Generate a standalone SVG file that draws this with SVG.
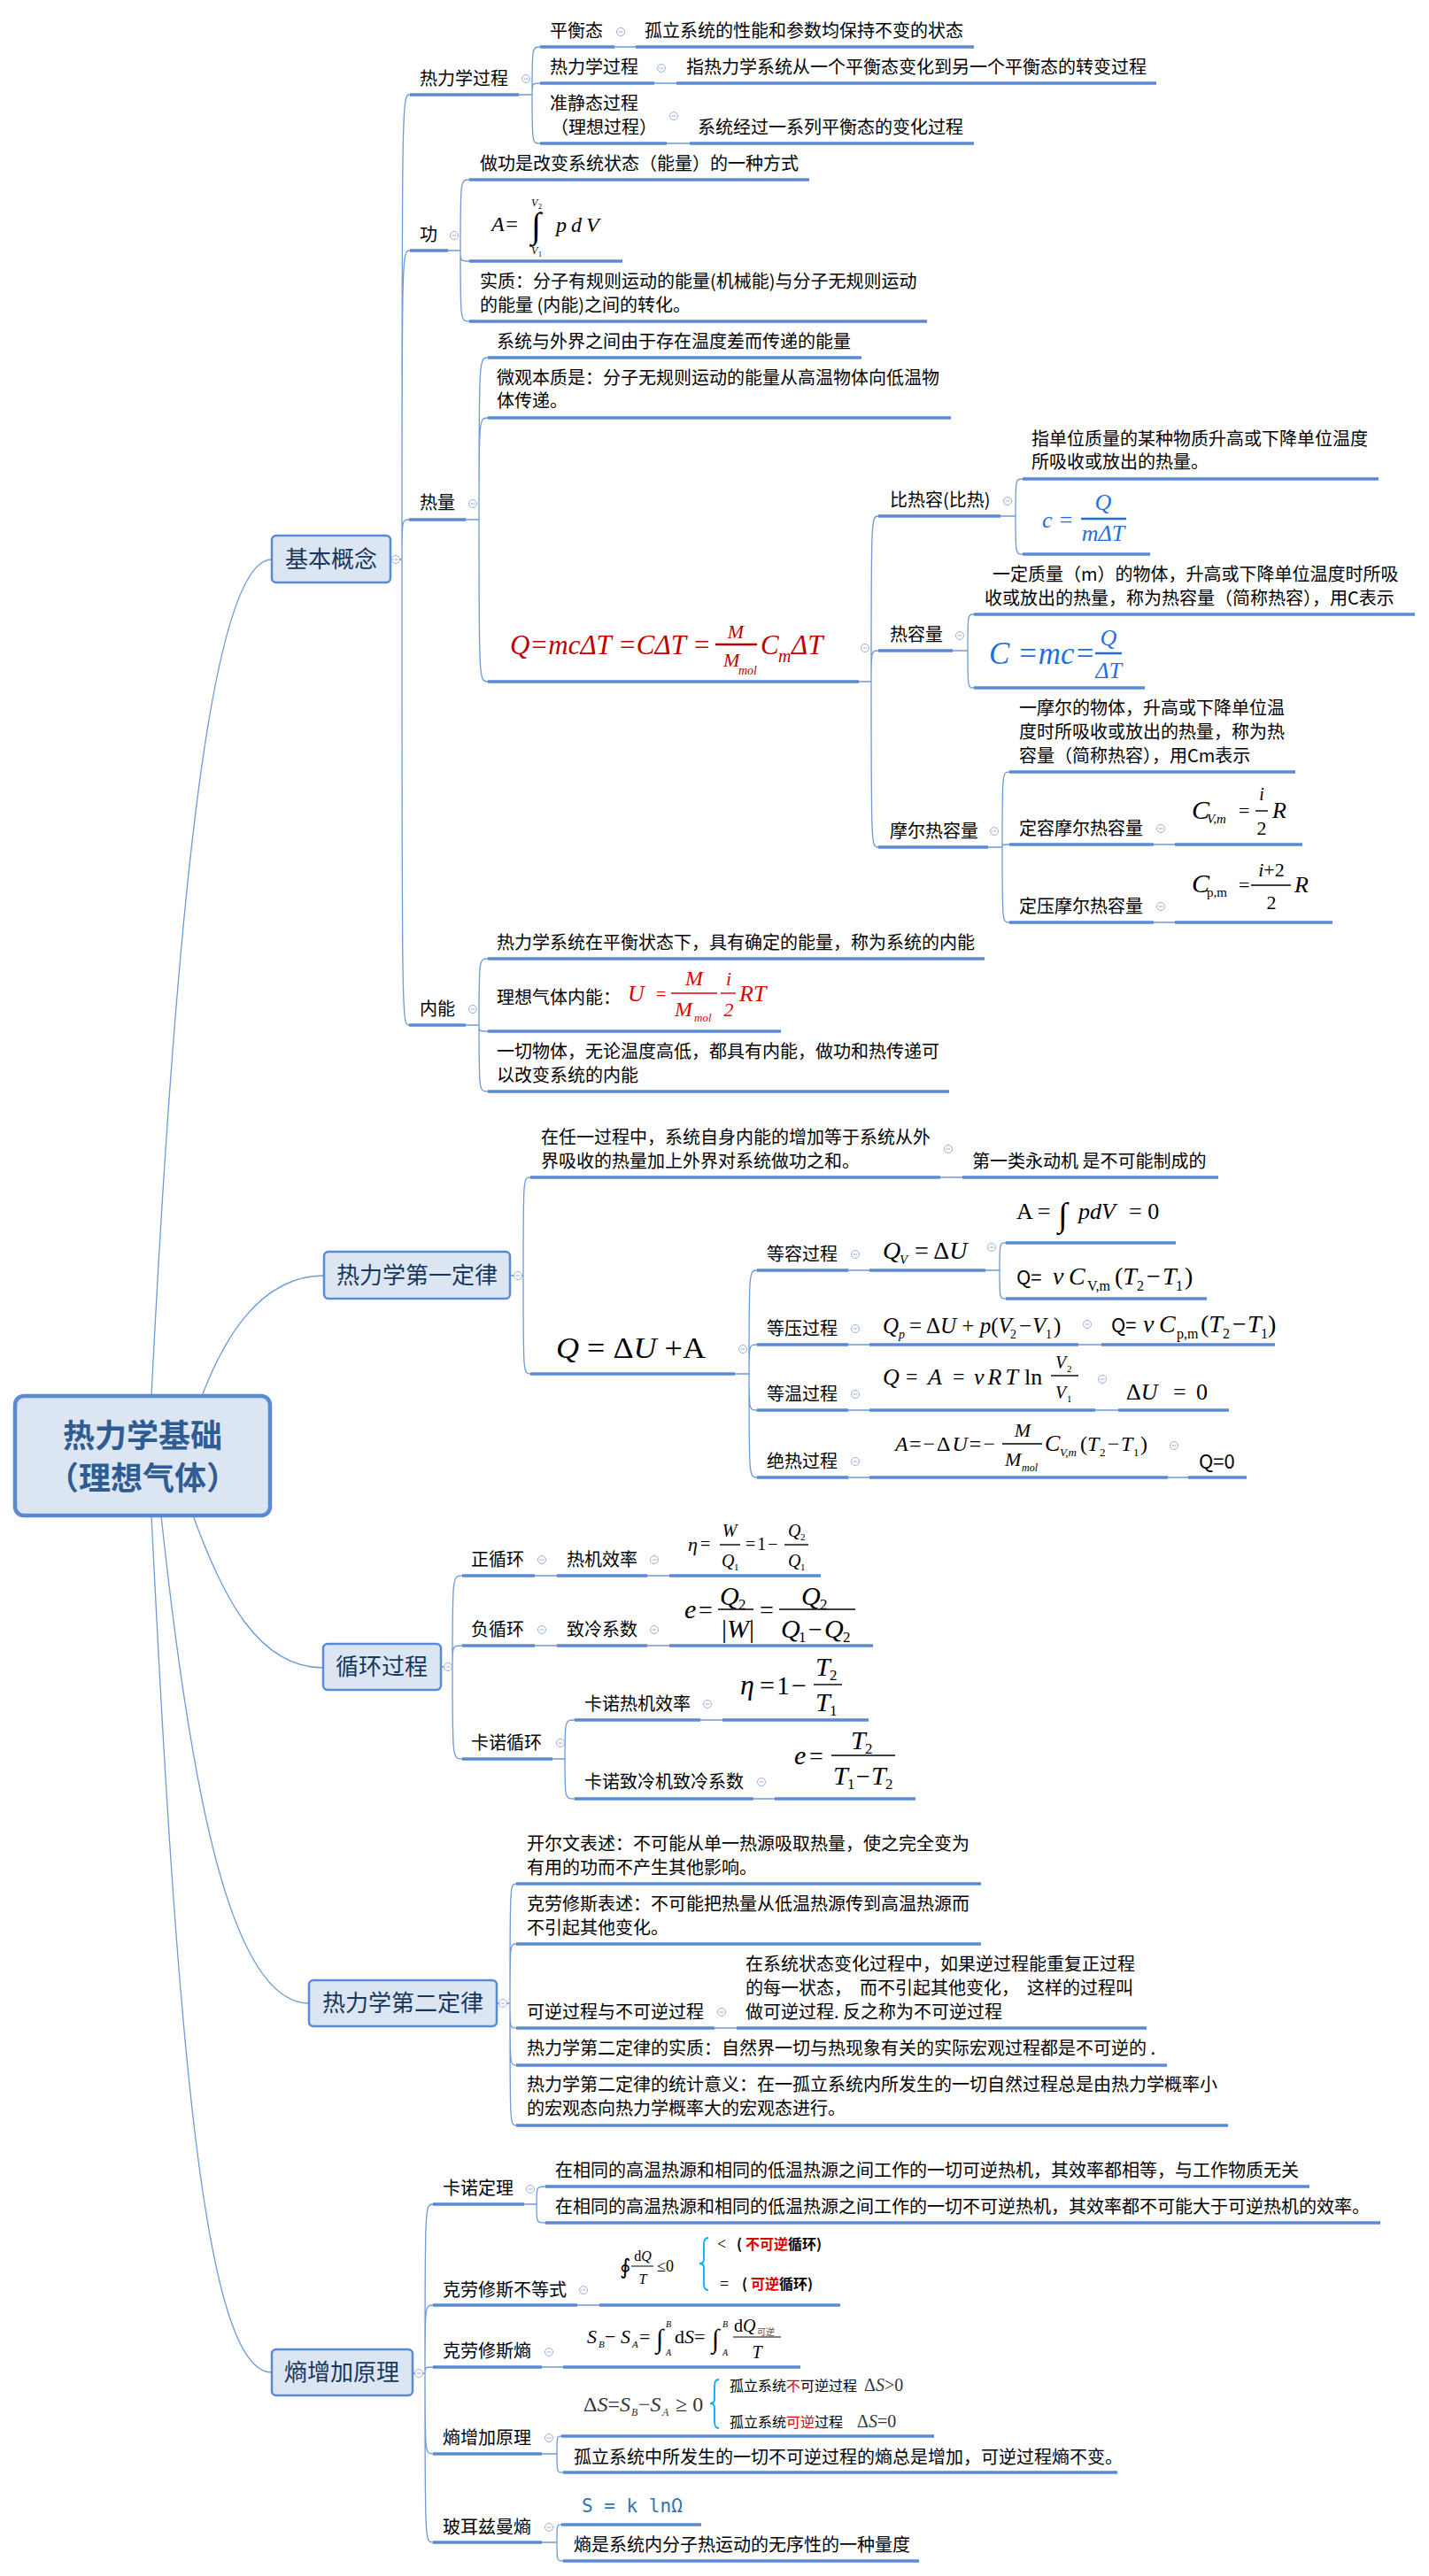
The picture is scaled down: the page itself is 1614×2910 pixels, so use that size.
<svg xmlns="http://www.w3.org/2000/svg" width="1614" height="2910" viewBox="0 0 1614 2910">
<defs>
<style>
text{font-family:"Noto Sans CJK SC","Noto Sans",sans-serif;font-size:20px;fill:#000}
.f{font-family:"Liberation Serif","Times New Roman",serif}
.i{font-style:italic}
.u{stroke:#5a8ad6;stroke-width:3.5;fill:none}
.c{stroke:#6d9ad8;stroke-width:1.3;fill:none}
.b{fill:#dce6f2;stroke:#5a8ad6;stroke-width:2.5}
.bt{font-size:26px;fill:#17375e;text-anchor:middle}
.fl{stroke:#000;stroke-width:1.4}
.r{fill:#c00000}
.rr{fill:#e00000}
.bl{fill:#1f6fe0}
.m{text-anchor:middle}
.br{stroke:#00b0f0;stroke-width:1.8;fill:none}
</style>
<g id="k"><circle r="4.5" fill="#fff" stroke="#9ab0d8" stroke-width="1"/><path d="M-2.5,0H2.5" stroke="#9ab0d8" stroke-width="1"/></g>
</defs>
<rect width="1614" height="2910" fill="#fff"/>

<g id="connectors" class="c">
<path d="M171,1577C200,1000 240,632 307,632"/>
<path d="M228,1577C250,1520 290,1441 366,1441"/>
<path d="M218,1712C250,1800 290,1884 365,1884"/>
<path d="M182,1712C215,2020 260,2263 349,2263"/>
<path d="M171,1712C200,2300 230,2680 307,2680"/>
<path d="M441,632H454M454,632C454,107 454,107 463,107M454,632C454,283 454,283 463,283M454,632C454,587 454,587 462,587M454,632C454,1158 454,1158 462,1158"/>
<path d="M586,107H601M601,107C601,53 601,53 610,53M601,107C601,94 601,94 610,94M601,107C601,162 601,162 610,162M694,53H718M739,94H764M753,162H779"/>
<path d="M506,283H520M520,283C520,203 520,203 530,203M520,283C520,295 520,295 530,295M520,283C520,363 520,363 530,363"/>
<path d="M526,587H541M541,587C541,404 541,404 551,404M541,587C541,472 541,472 551,472M541,587C541,770 541,770 551,770"/>
<path d="M970,770H984M984,770C984,583 984,583 992,583M984,770C984,735 984,735 992,735M984,770C984,957 984,957 992,957"/>
<path d="M1130,583H1147M1147,583C1147,541 1147,541 1155,541M1147,583C1147,626 1147,626 1155,626"/>
<path d="M1076,735H1093M1093,735C1093,694 1093,694 1100,694M1093,735C1093,777 1093,777 1100,777"/>
<path d="M1116,957H1132M1132,957C1132,872 1132,872 1140,872M1132,957C1132,954 1132,954 1140,954M1132,957C1132,1042 1132,1042 1140,1042M1303,954H1327M1303,1042H1327"/>
<path d="M526,1158H541M541,1158C541,1083 541,1083 551,1083M541,1158C541,1165 541,1165 551,1165M541,1158C541,1233 541,1233 551,1233"/>
<path d="M576,1441H591M591,1441C591,1330 591,1330 599,1330M591,1441C591,1552 591,1552 599,1552M1062,1330H1087"/>
<path d="M830,1552H846M846,1552C846,1435 846,1435 855,1435M846,1552C846,1519 846,1519 855,1519M846,1552C846,1593 846,1593 855,1593M846,1552C846,1669 846,1669 855,1669M958,1435H982M958,1519H982M958,1593H982M958,1669H982M1218,1519H1244M1237,1593H1263M1319,1669H1342"/>
<path d="M1113,1435H1129M1129,1435C1129,1404 1129,1404 1136,1404M1129,1435C1129,1467 1129,1467 1136,1467"/>
<path d="M498,1883H511M511,1883C511,1780 511,1780 522,1780M511,1883C511,1859 511,1859 522,1859M511,1883C511,1987 511,1987 522,1987M604,1780H629M731,1780H756M604,1859H629M731,1859H756"/>
<path d="M624,1987H638M638,1987C638,1943 638,1943 649,1943M638,1987C638,2032 638,2032 649,2032M791,1943H816M851,2032H875"/>
<path d="M561,2263H576M576,2263C576,2128 576,2128 583,2128M576,2263C576,2196 576,2196 583,2196M576,2263C576,2291 576,2291 583,2291M576,2263C576,2333 576,2333 583,2333M576,2263C576,2401 576,2401 583,2401M807,2291H832"/>
<path d="M466,2681H480M480,2681C480,2490 480,2490 489,2490M480,2681C480,2604 480,2604 489,2604M480,2681C480,2674 480,2674 489,2674M480,2681C480,2772 480,2772 489,2772M480,2681C480,2872 480,2872 489,2872"/>
<path d="M592,2490H606M606,2490C606,2470 606,2470 616,2470M606,2490C606,2511 606,2511 616,2511M652,2604H677M612,2674H636"/>
<path d="M612,2772H629M629,2772C629,2752 629,2752 634,2752M629,2772C629,2793 629,2793 636,2793"/>
<path d="M612,2872H629M629,2872C629,2852 629,2852 634,2852M629,2872C629,2893 629,2893 636,2893"/>
</g>

<g id="root">
<rect x="17" y="1577" width="288" height="135" rx="10" fill="#dce6f2" stroke="#5a8ad6" stroke-width="4.5"/>
<text x="161" y="1635" font-size="36" font-weight="bold" fill="#2f5d93" text-anchor="middle" style="fill:#2f5d93;font-size:36px">热力学基础</text>
<text x="161" y="1683" font-size="36" font-weight="bold" text-anchor="middle" style="fill:#2f5d93;font-size:36px">（理想气体）</text>
</g>

<g id="n-jbgn">
<rect class="b" x="307" y="605" width="134" height="53" rx="5"/>
<text class="bt" x="374" y="641">基本概念</text>
<use href="#k" x="447" y="632"/>
</g>
<g id="n-rlxgc">
<path class="u" d="M463,107H586"/><text x="474" y="96">热力学过程</text><use href="#k" x="594" y="89"/>
<path class="u" d="M610,53H694"/><text x="621" y="42">平衡态</text><use href="#k" x="701" y="36"/>
<path class="u" d="M718,53H1100"/><text x="728" y="42">孤立系统的性能和参数均保持不变的状态</text>
<path class="u" d="M610,94H739"/><text x="621" y="83">热力学过程</text><use href="#k" x="747" y="77"/>
<path class="u" d="M764,94H1306"/><text x="775" y="83">指热力学系统从一个平衡态变化到另一个平衡态的转变过程</text>
<path class="u" d="M610,162H753"/><text x="621" y="124">准静态过程</text><text x="622" y="151">（理想过程）</text><use href="#k" x="761" y="131"/>
<path class="u" d="M779,162H1100"/><text x="788" y="151">系统经过一系列平衡态的变化过程</text>
</g>
<g id="n-gong">
<path class="u" d="M463,283H506"/><text x="474" y="272">功</text><use href="#k" x="513" y="266"/>
<path class="u" d="M530,203H914"/><text x="542" y="192">做功是改变系统状态（能量）的一种方式</text>
<path class="u" d="M530,295H703"/>
<text class="f i" x="555" y="261" font-size="24" style="font-size:24px">A=</text>
<text class="f" x="600" y="268" style="font-size:40px">∫</text>
<text class="f i" x="600" y="233" style="font-size:12px">V</text><text class="f" x="608" y="236" style="font-size:8px">2</text>
<text class="f i" x="600" y="287" style="font-size:12px">V</text><text class="f" x="608" y="290" style="font-size:8px">1</text>
<text class="f i" x="628" y="262" letter-spacing="5" style="font-size:24px">pdV</text>
<path class="u" d="M530,363H1047"/><text x="542" y="325">实质：分子有规则运动的能量(机械能)与分子无规则运动</text><text x="542" y="352">的能量 (内能)之间的转化。</text>
</g>
<g id="n-reliang">
<path class="u" d="M462,587H526"/><text x="474" y="575">热量</text><use href="#k" x="534" y="569"/>
<path class="u" d="M551,404H973"/><text x="561" y="393">系统与外界之间由于存在温度差而传递的能量</text>
<path class="u" d="M551,472H1074"/><text x="561" y="434">微观本质是：分子无规则运动的能量从高温物体向低温物</text><text x="561" y="460">体传递。</text>
<path class="u" d="M551,770H970"/><use href="#k" x="977" y="732"/>
<text class="f i r" x="576" y="739" textLength="227" lengthAdjust="spacingAndGlyphs" style="font-size:31px">Q=mcΔT =CΔT =</text>
<text class="f i r m" x="831" y="721" style="font-size:22px">M</text>
<path d="M808,728H855" stroke="#c00000" stroke-width="2.5"/>
<text class="f i r" x="817" y="753" style="font-size:22px">M</text><text class="f i r" x="834" y="762" style="font-size:14px">mol</text>
<text class="f i r" x="859" y="739" style="font-size:31px">C</text><text class="f i r" x="879" y="748" style="font-size:20px">m</text><text class="f i r" x="894" y="739" style="font-size:31px">ΔT</text>
</g>
<g id="n-birongre">
<path class="u" d="M992,583H1130"/><text x="1005" y="572">比热容(比热)</text><use href="#k" x="1138" y="566"/>
<path class="u" d="M1155,541H1557"/><text x="1165" y="503">指单位质量的某种物质升高或下降单位温度</text><text x="1165" y="529">所吸收或放出的热量。</text>
<path class="u" d="M1155,626H1299"/>
<text class="f i bl" x="1177" y="596" style="font-size:26px">c =</text>
<text class="f i bl m" x="1246" y="576" style="font-size:26px">Q</text>
<path d="M1221,586H1272" stroke="#1f6fe0" stroke-width="2.5"/>
<text class="f i bl m" x="1246" y="611" style="font-size:26px">mΔT</text>
</g>
<g id="n-rerongliang">
<path class="u" d="M992,735H1076"/><text x="1005" y="724">热容量</text><use href="#k" x="1084" y="718"/>
<path class="u" d="M1100,694H1598"/><text x="1121" y="656">一定质量（m）的物体，升高或下降单位温度时所吸</text><text x="1112" y="683">收或放出的热量，称为热容量（简称热容），用C表示</text>
<path class="u" d="M1100,777H1293"/>
<text class="f i bl" x="1117" y="750" textLength="120" lengthAdjust="spacingAndGlyphs" style="font-size:36px">C =mc=</text>
<text class="f i bl m" x="1252" y="729" style="font-size:26px">Q</text>
<path d="M1237,738H1267" stroke="#1f6fe0" stroke-width="2.5"/>
<text class="f i bl m" x="1252" y="766" style="font-size:26px">ΔT</text>
</g>
<g id="n-moer">
<path class="u" d="M992,957H1116"/><text x="1005" y="946">摩尔热容量</text><use href="#k" x="1123" y="939"/>
<path class="u" d="M1140,872H1463"/><text x="1151" y="807">一摩尔的物体，升高或下降单位温</text><text x="1151" y="834">度时所吸收或放出的热量，称为热</text><text x="1151" y="861">容量（简称热容），用Cm表示</text>
<path class="u" d="M1140,954H1303"/><text x="1151" y="943">定容摩尔热容量</text><use href="#k" x="1311" y="936"/>
<path class="u" d="M1327,954H1471"/>
<text class="f i" x="1346" y="925" style="font-size:30px">C</text><text class="f i" x="1363" y="930" style="font-size:15px">V,m</text>
<text class="f" x="1399" y="923" style="font-size:22px">=</text>
<text class="f i m" x="1425" y="904" style="font-size:20px">i</text>
<path d="M1418,916H1432" class="fl"/>
<text class="f m" x="1425" y="943" style="font-size:22px">2</text>
<text class="f i" x="1437" y="924" style="font-size:26px">R</text>
<path class="u" d="M1140,1042H1303"/><text x="1151" y="1031">定压摩尔热容量</text><use href="#k" x="1311" y="1024"/>
<path class="u" d="M1327,1042H1505"/>
<text class="f i" x="1346" y="1008" style="font-size:30px">C</text><text class="f" x="1363" y="1013" style="font-size:15px">p,m</text>
<text class="f" x="1399" y="1007" style="font-size:22px">=</text>
<text class="f m" x="1436" y="990" style="font-size:22px"><tspan font-style="italic">i</tspan>+2</text>
<path d="M1413,1000H1458" class="fl"/>
<text class="f m" x="1436" y="1027" style="font-size:22px">2</text>
<text class="f i" x="1462" y="1008" style="font-size:26px">R</text>
</g>
<g id="n-neineng">
<path class="u" d="M462,1158H526"/><text x="474" y="1147">内能</text><use href="#k" x="534" y="1140"/>
<path class="u" d="M551,1083H1112"/><text x="561" y="1072">热力学系统在平衡状态下，具有确定的能量，称为系统的内能</text>
<path class="u" d="M551,1165H882"/><text x="561" y="1134">理想气体内能：</text>
<text class="f i rr" x="709" y="1131" style="font-size:26px">U</text>
<text class="f rr" x="741" y="1130" style="font-size:20px">=</text>
<text class="f i rr m" x="784" y="1113" style="font-size:24px">M</text>
<path d="M758,1122H810" stroke="#e00000" stroke-width="1.4"/>
<text class="f i rr" x="762" y="1148" style="font-size:24px">M</text><text class="f i rr" x="784" y="1154" style="font-size:13px">mol</text>
<text class="f i rr m" x="823" y="1113" style="font-size:22px">i</text>
<path d="M814,1122H831" stroke="#e00000" stroke-width="1.4"/>
<text class="f i rr m" x="823" y="1148" style="font-size:22px">2</text>
<text class="f i rr" x="835" y="1131" style="font-size:26px">RT</text>
<path class="u" d="M551,1233H1072"/><text x="561" y="1195">一切物体，无论温度高低，都具有内能，做功和热传递可</text><text x="561" y="1222">以改变系统的内能</text>
</g>

<g id="n-diyi">
<rect class="b" x="366" y="1414" width="210" height="53" rx="5"/>
<text class="bt" x="471" y="1450">热力学第一定律</text>
<use href="#k" x="585" y="1441"/>
<path class="u" d="M599,1330H1062"/><text x="611" y="1292">在任一过程中，系统自身内能的增加等于系统从外</text><text x="611" y="1319">界吸收的热量加上外界对系统做功之和。</text><use href="#k" x="1071" y="1298"/>
<path class="u" d="M1087,1330H1376"/><text x="1098" y="1319">第一类永动机 是不可能制成的</text>
<path class="u" d="M599,1552H830"/><use href="#k" x="839" y="1524"/>
<text class="f" x="628" y="1534" textLength="169" lengthAdjust="spacingAndGlyphs" style="font-size:34px"><tspan font-style="italic">Q</tspan> = Δ<tspan font-style="italic">U</tspan> +A</text>
<path class="u" d="M855,1435H958"/><text x="866" y="1424">等容过程</text><use href="#k" x="966" y="1417"/>
<path class="u" d="M982,1435H1113"/><use href="#k" x="1120" y="1409"/>
<text class="f i" x="997" y="1422" style="font-size:28px">Q</text><text class="f i" x="1016" y="1428" style="font-size:15px">V</text>
<text class="f" x="1033" y="1422" style="font-size:28px">= Δ<tspan font-style="italic">U</tspan></text>
<path class="u" d="M1136,1404H1328"/>
<text class="f" x="1148" y="1377" style="font-size:26px">A =</text>
<text class="f" x="1195" y="1385" style="font-size:38px">∫</text>
<text class="f i" x="1218" y="1377" style="font-size:26px">pdV</text>
<text class="f" x="1275" y="1377" style="font-size:26px">= 0</text>
<path class="u" d="M1136,1467H1363"/>
<text x="1148" y="1451" style="font-size:22px">Q=</text>
<text class="f i" x="1189" y="1451" style="font-size:28px">ν</text><text class="f i" x="1207" y="1451" style="font-size:28px">C</text>
<text class="f" x="1228" y="1458" style="font-size:16px">V,m</text>
<text class="f" x="1259" y="1451" style="font-size:28px">(<tspan font-style="italic">T</tspan></text><text class="f" x="1284" y="1458" style="font-size:16px">2</text>
<text class="f" x="1295" y="1451" style="font-size:28px">−</text><text class="f i" x="1313" y="1451" style="font-size:28px">T</text><text class="f" x="1328" y="1458" style="font-size:16px">1</text>
<text class="f" x="1338" y="1451" style="font-size:28px">)</text>
<path class="u" d="M855,1519H958"/><text x="866" y="1508">等压过程</text><use href="#k" x="966" y="1501"/>
<path class="u" d="M982,1519H1218"/><use href="#k" x="1228" y="1496"/>
<text class="f i" x="997" y="1506" style="font-size:25px">Q</text><text class="f i" x="1015" y="1512" style="font-size:14px">p</text>
<text class="f" x="1027" y="1506" style="font-size:25px">= Δ<tspan font-style="italic">U</tspan> + <tspan font-style="italic">p</tspan>(<tspan font-style="italic">V</tspan></text>
<text class="f" x="1141" y="1512" style="font-size:14px">2</text>
<text class="f" x="1151" y="1506" style="font-size:25px">−</text><text class="f i" x="1166" y="1506" style="font-size:25px">V</text><text class="f" x="1181" y="1512" style="font-size:14px">1</text><text class="f" x="1190" y="1506" style="font-size:25px">)</text>
<path class="u" d="M1244,1519H1440"/>
<text x="1255" y="1505" style="font-size:22px">Q=</text>
<text class="f i" x="1291" y="1505" style="font-size:28px">ν</text><text class="f i" x="1309" y="1505" style="font-size:28px">C</text>
<text class="f" x="1329" y="1512" style="font-size:16px">p,m</text>
<text class="f" x="1356" y="1505" style="font-size:28px">(<tspan font-style="italic">T</tspan></text><text class="f" x="1381" y="1512" style="font-size:16px">2</text>
<text class="f" x="1392" y="1505" style="font-size:28px">−</text><text class="f i" x="1409" y="1505" style="font-size:28px">T</text><text class="f" x="1424" y="1512" style="font-size:16px">1</text>
<text class="f" x="1432" y="1505" style="font-size:28px">)</text>
<path class="u" d="M855,1593H958"/><text x="866" y="1582">等温过程</text><use href="#k" x="966" y="1575"/>
<path class="u" d="M982,1593H1237"/><use href="#k" x="1245" y="1558"/>
<text class="f i" x="997" y="1564" style="font-size:26px">Q</text>
<text class="f" x="1023" y="1563" style="font-size:24px">=</text>
<text class="f i" x="1048" y="1564" style="font-size:26px">A</text>
<text class="f" x="1076" y="1563" style="font-size:24px">=</text>
<text class="f i" x="1100" y="1564" letter-spacing="4" style="font-size:26px">νRT</text>
<text class="f" x="1157" y="1564" style="font-size:26px">ln</text>
<text class="f i" x="1192" y="1546" style="font-size:20px">V</text><text class="f" x="1205" y="1550" style="font-size:11px">2</text>
<path d="M1187,1554H1218" class="fl"/>
<text class="f i" x="1192" y="1580" style="font-size:20px">V</text><text class="f" x="1205" y="1584" style="font-size:11px">1</text>
<path class="u" d="M1263,1593H1388"/>
<text class="f" x="1272" y="1581" style="font-size:26px">Δ<tspan font-style="italic">U</tspan></text>
<text class="f" x="1325" y="1581" style="font-size:26px">=</text><text class="f" x="1351" y="1581" style="font-size:26px">0</text>
<path class="u" d="M855,1669H958"/><text x="866" y="1658">绝热过程</text><use href="#k" x="966" y="1651"/>
<path class="u" d="M982,1669H1319"/><use href="#k" x="1326" y="1633"/>
<text class="f i" x="1011" y="1639" style="font-size:24px">A</text>
<text class="f" x="1027" y="1639" letter-spacing="2" style="font-size:24px">=−Δ<tspan font-style="italic">U</tspan>=−</text>
<text class="f i m" x="1155" y="1623" style="font-size:22px">M</text>
<path d="M1132,1631H1177" class="fl"/>
<text class="f i" x="1135" y="1656" style="font-size:22px">M</text><text class="f i" x="1154" y="1662" style="font-size:12px">mol</text>
<text class="f i" x="1180" y="1639" style="font-size:26px">C</text><text class="f i" x="1197" y="1645" style="font-size:13px">V,m</text>
<text class="f" x="1220" y="1639" style="font-size:24px">(<tspan font-style="italic">T</tspan></text><text class="f" x="1242" y="1645" style="font-size:13px">2</text>
<text class="f" x="1251" y="1639" style="font-size:24px">−</text><text class="f i" x="1266" y="1639" style="font-size:24px">T</text><text class="f" x="1280" y="1645" style="font-size:13px">1</text>
<text class="f" x="1288" y="1639" style="font-size:24px">)</text>
<path class="u" d="M1342,1669H1408"/><text x="1354" y="1659" style="font-size:22px">Q=0</text>
</g>

<g id="n-xunhuan">
<rect class="b" x="365" y="1857" width="133" height="52" rx="5"/>
<text class="bt" x="431" y="1892">循环过程</text>
<use href="#k" x="506" y="1883"/>
<path class="u" d="M522,1780H604"/><text x="532" y="1769">正循环</text><use href="#k" x="612" y="1762"/>
<path class="u" d="M629,1780H731"/><text x="640" y="1769">热机效率</text><use href="#k" x="739" y="1762"/>
<path class="u" d="M756,1780H927"/>
<text class="f i" x="777" y="1752" style="font-size:22px">η</text><text class="f" x="791" y="1751" style="font-size:20px">=</text>
<text class="f i m" x="824" y="1736" style="font-size:20px">W</text>
<path d="M813,1745H836" class="fl"/>
<text class="f i" x="815" y="1770" style="font-size:20px">Q</text><text class="f" x="829" y="1774" style="font-size:11px">1</text>
<text class="f" x="842" y="1751" letter-spacing="2" style="font-size:20px">=1−</text>
<text class="f i" x="890" y="1736" style="font-size:20px">Q</text><text class="f" x="904" y="1740" style="font-size:11px">2</text>
<path d="M886,1745H913" class="fl"/>
<text class="f i" x="890" y="1770" style="font-size:20px">Q</text><text class="f" x="904" y="1774" style="font-size:11px">1</text>
<path class="u" d="M522,1859H604"/><text x="532" y="1848">负循环</text><use href="#k" x="612" y="1841"/>
<path class="u" d="M629,1859H731"/><text x="640" y="1848">致冷系数</text><use href="#k" x="739" y="1841"/>
<path class="u" d="M756,1859H986"/>
<text class="f i" x="773" y="1828" style="font-size:30px">e</text><text class="f" x="789" y="1828" style="font-size:28px">=</text>
<text class="f i" x="813" y="1813" style="font-size:30px">Q</text><text class="f" x="834" y="1818" style="font-size:17px">2</text>
<path d="M811,1818H851" class="fl" stroke-width="1.6"/>
<text class="f" x="815" y="1850" style="font-size:30px">|<tspan font-style="italic">W</tspan>|</text>
<text class="f" x="858" y="1828" style="font-size:28px">=</text>
<text class="f i" x="905" y="1813" style="font-size:30px">Q</text><text class="f" x="926" y="1818" style="font-size:17px">2</text>
<path d="M880,1818H966" class="fl" stroke-width="1.6"/>
<text class="f i" x="882" y="1850" style="font-size:30px">Q</text><text class="f" x="902" y="1855" style="font-size:17px">1</text>
<text class="f" x="913" y="1850" style="font-size:28px">−</text>
<text class="f i" x="931" y="1850" style="font-size:30px">Q</text><text class="f" x="952" y="1855" style="font-size:17px">2</text>
<path class="u" d="M522,1987H624"/><text x="532" y="1976">卡诺循环</text><use href="#k" x="633" y="1969"/>
<path class="u" d="M649,1943H791"/><text x="660" y="1932">卡诺热机效率</text><use href="#k" x="799" y="1925"/>
<path class="u" d="M816,1943H981"/>
<text class="f i" x="836" y="1914" style="font-size:32px">η</text>
<text class="f" x="858" y="1914" letter-spacing="2" style="font-size:30px">=1−</text>
<text class="f i" x="921" y="1893" style="font-size:30px">T</text><text class="f" x="937" y="1898" style="font-size:17px">2</text>
<path d="M919,1903H951" class="fl" stroke-width="1.8"/>
<text class="f i" x="921" y="1933" style="font-size:30px">T</text><text class="f" x="937" y="1938" style="font-size:17px">1</text>
<path class="u" d="M649,2032H851"/><text x="660" y="2020">卡诺致冷机致冷系数</text><use href="#k" x="860" y="2013"/>
<path class="u" d="M875,2032H1034"/>
<text class="f i" x="897" y="1993" style="font-size:30px">e</text><text class="f" x="914" y="1993" style="font-size:28px">=</text>
<text class="f i" x="961" y="1976" style="font-size:30px">T</text><text class="f" x="977" y="1981" style="font-size:17px">2</text>
<path d="M939,1983H1011" class="fl" stroke-width="1.6"/>
<text class="f i" x="941" y="2016" style="font-size:30px">T</text><text class="f" x="957" y="2021" style="font-size:17px">1</text>
<text class="f" x="967" y="2016" style="font-size:28px">−</text>
<text class="f i" x="984" y="2016" style="font-size:30px">T</text><text class="f" x="1000" y="2021" style="font-size:17px">2</text>
</g>

<g id="n-dier">
<rect class="b" x="349" y="2237" width="212" height="52" rx="5"/>
<text class="bt" x="455" y="2272">热力学第二定律</text>
<use href="#k" x="568" y="2263"/>
<path class="u" d="M583,2128H1108"/><text x="595" y="2090">开尔文表述：不可能从单一热源吸取热量，使之完全变为</text><text x="595" y="2117">有用的功而不产生其他影响。</text>
<path class="u" d="M583,2196H1108"/><text x="595" y="2158">克劳修斯表述：不可能把热量从低温热源传到高温热源而</text><text x="595" y="2185">不引起其他变化。</text>
<path class="u" d="M583,2291H807"/><text x="595" y="2280">可逆过程与不可逆过程</text><use href="#k" x="815" y="2273"/>
<path class="u" d="M832,2291H1295"/><text x="842" y="2226">在系统状态变化过程中，如果逆过程能重复正过程</text><text x="842" y="2253" xml:space="preserve">的每一状态，  而不引起其他变化，  这样的过程叫</text><text x="842" y="2280">做可逆过程. 反之称为不可逆过程</text>
<path class="u" d="M583,2333H1318"/><text x="595" y="2321">热力学第二定律的实质：自然界一切与热现象有关的实际宏观过程都是不可逆的 .</text>
<path class="u" d="M583,2401H1387"/><text x="595" y="2362">热力学第二定律的统计意义：在一孤立系统内所发生的一切自然过程总是由热力学概率小</text><text x="595" y="2389">的宏观态向热力学概率大的宏观态进行。</text>
</g>

<g id="n-shang">
<rect class="b" x="307" y="2654" width="159" height="52" rx="5"/>
<text class="bt" x="386" y="2689">熵增加原理</text>
<use href="#k" x="473" y="2681"/>
<path class="u" d="M489,2490H592"/><text x="500" y="2479">卡诺定理</text><use href="#k" x="599" y="2473"/>
<path class="u" d="M616,2470H1479"/><text x="627" y="2459">在相同的高温热源和相同的低温热源之间工作的一切可逆热机，其效率都相等，与工作物质无关</text>
<path class="u" d="M616,2511H1559"/><text x="627" y="2500">在相同的高温热源和相同的低温热源之间工作的一切不可逆热机，其效率都不可能大于可逆热机的效率。</text>
<path class="u" d="M489,2604H652"/><text x="500" y="2594">克劳修斯不等式</text><use href="#k" x="659" y="2587"/>
<path class="u" d="M677,2604H949"/>
<text x="700" y="2569" style="font-family:'DejaVu Serif',serif;font-size:24px">∮</text>
<text class="f m" x="726" y="2554" style="font-size:16px">d<tspan font-style="italic">Q</tspan></text>
<path d="M713,2560H738" stroke="#000" stroke-width="1"/>
<text class="f i m" x="726" y="2580" style="font-size:16px">T</text>
<text class="f" x="742" y="2566" style="font-size:18px">≤0</text>
<path class="br" d="M800,2528Q795,2528 795,2535L795,2552Q795,2557 790,2557Q795,2557 795,2562L795,2580Q795,2587 800,2587"/>
<text class="f" x="810" y="2541" style="font-size:18px">&lt;</text>
<text x="832" y="2541" font-weight="bold" style="font-size:16px">(<tspan x="842" style="fill:#e00000">不可逆</tspan>循环)</text>
<text class="f" x="813" y="2586" style="font-size:18px">=</text>
<text x="838" y="2586" font-weight="bold" style="font-size:16px">(<tspan x="848" style="fill:#e00000">可逆</tspan>循环)</text>
<path class="u" d="M489,2674H612"/><text x="500" y="2663">克劳修斯熵</text><use href="#k" x="620" y="2657"/>
<path class="u" d="M636,2674H904"/>
<text class="f i" x="663" y="2647" style="font-size:22px">S</text><text class="f i" x="676" y="2652" style="font-size:11px">B</text>
<text class="f" x="683" y="2647" style="font-size:22px">−</text>
<text class="f i" x="701" y="2647" style="font-size:22px">S</text><text class="f i" x="714" y="2652" style="font-size:11px">A</text>
<text class="f" x="722" y="2647" style="font-size:22px">=</text>
<text class="f" x="741" y="2652" style="font-size:30px">∫</text><text class="f i" x="752" y="2629" style="font-size:10px">B</text><text class="f i" x="752" y="2661" style="font-size:10px">A</text>
<text class="f" x="762" y="2647" style="font-size:22px">d<tspan font-style="italic">S</tspan>=</text>
<text class="f" x="804" y="2652" style="font-size:30px">∫</text><text class="f i" x="816" y="2629" style="font-size:10px">B</text><text class="f i" x="816" y="2661" style="font-size:10px">A</text>
<text class="f" x="829" y="2634" style="font-size:20px">d<tspan font-style="italic">Q</tspan></text><text x="855" y="2638" style="font-size:10px;fill:#555">可逆</text>
<path d="M828,2640H882" stroke="#000" stroke-width="1"/>
<text class="f i m" x="855" y="2664" style="font-size:20px">T</text>
<path class="u" d="M489,2772H612"/><text x="500" y="2761">熵增加原理</text><use href="#k" x="620" y="2754"/>
<path class="u" d="M634,2752H1055"/>
<text class="f" x="659" y="2724" style="font-size:24px;fill:#333">Δ<tspan font-style="italic">S</tspan>=<tspan font-style="italic">S</tspan></text>
<text class="f i" x="713" y="2729" style="font-size:12px;fill:#333">B</text>
<text class="f" x="721" y="2724" style="font-size:24px;fill:#333">−<tspan font-style="italic">S</tspan></text>
<text class="f i" x="748" y="2729" style="font-size:12px;fill:#333">A</text>
<text class="f" x="763" y="2724" style="font-size:24px;fill:#333">≥ 0</text>
<path class="br" d="M812,2688Q807,2688 807,2695L807,2710Q807,2715 802,2715Q807,2715 807,2720L807,2736Q807,2743 812,2743"/>
<text x="824" y="2701" style="font-size:16px">孤立系统<tspan style="fill:#e00000">不</tspan>可逆过程</text>
<text class="f" x="976" y="2701" style="font-size:20px;fill:#333">Δ<tspan font-style="italic">S</tspan>&gt;0</text>
<text x="824" y="2742" style="font-size:16px">孤立系统<tspan style="fill:#e00000">可逆</tspan>过程</text>
<text class="f" x="968" y="2742" style="font-size:20px;fill:#333">Δ<tspan font-style="italic">S</tspan>=0</text>
<path class="u" d="M636,2793H1262"/><text x="648" y="2783">孤立系统中所发生的一切不可逆过程的熵总是增加，可逆过程熵不变。</text>
<path class="u" d="M489,2872H612"/><text x="500" y="2862">玻耳兹曼熵</text><use href="#k" x="620" y="2855"/>
<path class="u" d="M634,2852H792"/><text x="657" y="2838" xml:space="preserve" style="font-family:'DejaVu Sans Mono','Liberation Mono',monospace;font-size:21px;fill:#2e75b6">S = k lnΩ</text>
<path class="u" d="M636,2893H1038"/><text x="648" y="2882">熵是系统内分子热运动的无序性的一种量度</text>
</g>
</svg>
